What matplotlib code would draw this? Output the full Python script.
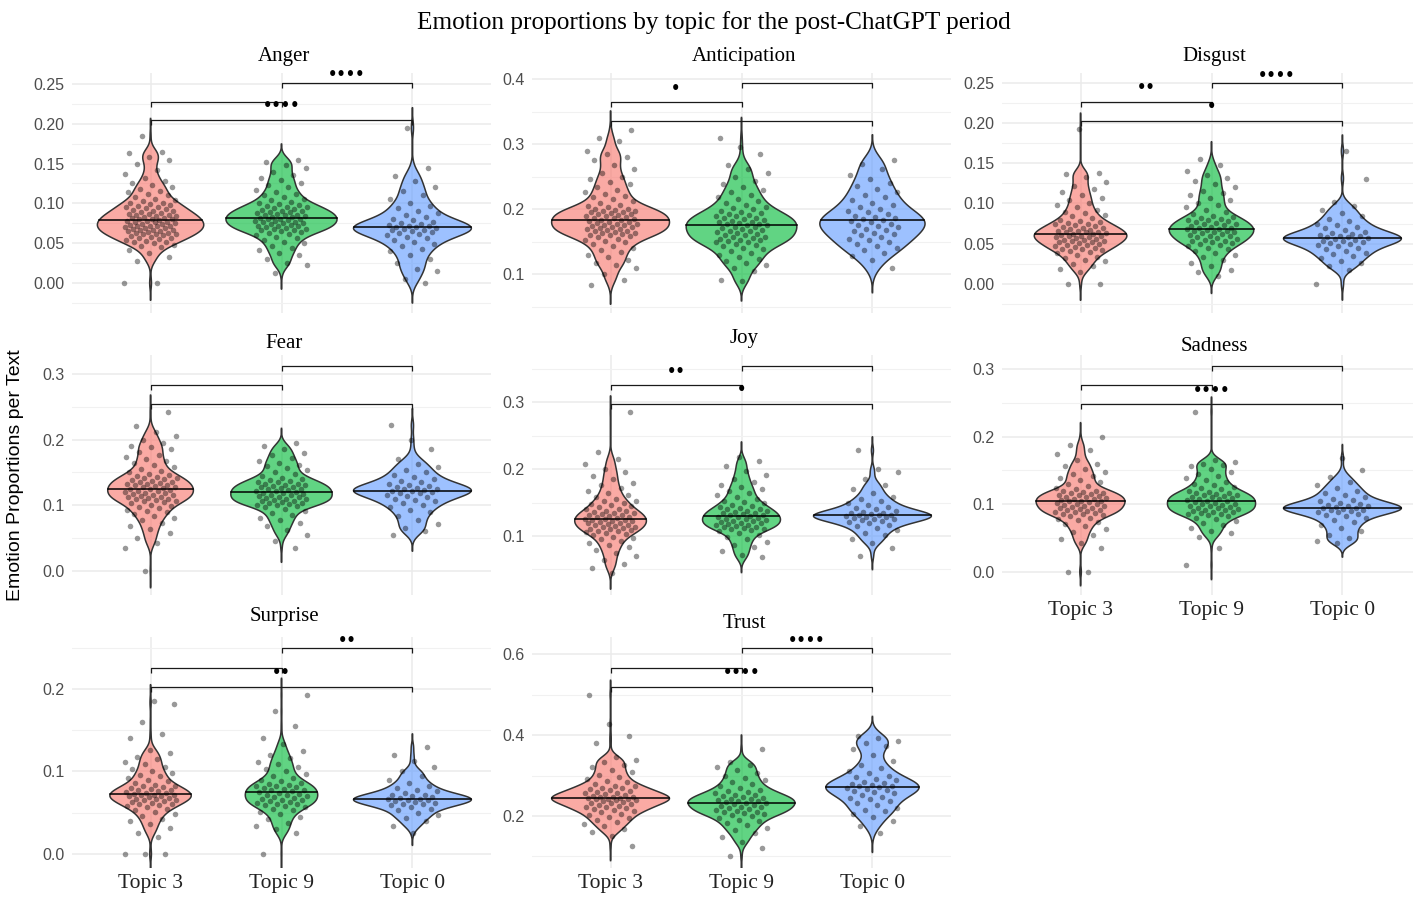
import numpy as np
import matplotlib
matplotlib.use("Agg")
import matplotlib.pyplot as plt
from matplotlib.ticker import MultipleLocator, FormatStrFormatter, AutoMinorLocator

# ---------------- data ----------------
emotions = ["Anger", "Anticipation", "Disgust", "Fear", "Joy", "Sadness", "Surprise", "Trust"]
topics = ["Topic 3", "Topic 9", "Topic 0"]
topic_colors = ["#F8766D", "#00BA38", "#619CFF"]
ref_counts = [420, 380, 150]   # approx. texts per topic in the reference

anger_t3 = [.000, .000, .028, .033, .038, .042, .045, .047, .048, .050, .051, .052, .053, .054, .055, .056, .057, .058, .059, .060,
            .061, .061, .062, .063, .063, .064, .065, .065, .066, .067, .067, .068, .069, .069, .070, .071, .071, .072, .072, .073,
            .074, .074, .075, .076, .076, .077, .078, .078, .079, .080, .080, .081, .082, .082, .083, .084, .084, .085, .086, .087,
            .087, .088, .089, .090, .091, .092, .093, .094, .095, .096, .097, .098, .099, .100, .101, .103, .104, .106, .108, .110,
            .112, .114, .116, .118, .120, .123, .125, .128, .132, .137, .142, .150, .155, .158, .163, .165, .185]
anger_t9 = [.012, .022, .025, .030, .035, .038, .041, .044, .047, .050, .052, .054, .056, .058, .060, .062, .063, .064,
            .065, .066, .067, .068, .068, .069, .070, .071, .072, .072, .073, .074, .075, .075, .076, .077, .078, .078, .079, .080,
            .081, .081, .082, .083, .083, .084, .085, .086, .086, .087, .088, .089, .089, .090, .091, .092, .093, .094, .095, .096,
            .097, .098, .099, .100, .102, .104, .106, .108, .110, .112, .114, .117, .120, .123, .126, .129, .132, .136, .140, .145,
            .148, .152, .155]
anger_t0 = [.000, .005, .015, .018, .025, .030, .035, .040, .043, .046, .049, .052, .054, .056, .058, .060, .062, .063, .064, .065,
            .066, .067, .068, .069, .070, .070, .071, .072, .073, .074, .075, .077, .079, .081, .083, .085, .088, .091, .094, .097,
            .100, .105, .110, .116, .120, .128, .135, .145, .195]

anticipation_t3 = [.083, .092, .100, .110, .115, .118, .122, .126, .130, .134, .137, .140, .143, .146, .149, .151, .153, .155, .157, .159,
                   .160, .161, .162, .163, .164, .165, .166, .167, .168, .169, .170, .171, .172, .173, .174, .175, .176, .177, .178, .179,
                   .180, .181, .182, .183, .184, .185, .186, .187, .188, .189, .190, .191, .192, .193, .194, .195, .196, .197, .198, .199,
                   .200, .201, .203, .205, .207, .209, .212, .215, .218, .221, .224, .227, .230, .234, .238, .242, .246, .250, .255, .262,
                   .268, .275, .280, .285, .290, .305, .310, .322]
anticipation_t9 = [.090, .092, .105, .110, .114, .118, .121, .124, .127, .130, .133, .136, .139, .141, .143, .145, .147, .149,
                   .150, .151, .152, .153, .155, .156, .157, .158, .160, .161, .162, .163, .165, .166, .167, .168, .170, .171, .172, .173,
                   .175, .176, .177, .178, .179, .180, .181, .182, .184, .185, .186, .187, .189, .190, .191, .193, .194, .196, .198, .200,
                   .202, .204, .207, .210, .213, .216, .219, .222, .226, .230, .234, .238, .243, .250, .256, .262, .268, .285, .295, .310]
anticipation_t0 = [.110, .122, .128, .133, .137, .140, .143, .146, .149, .152, .155, .157, .160, .162, .164, .166, .168, .170, .172, .174,
                   .176, .178, .180, .182, .184, .185, .186, .188, .190, .192, .195, .198, .201, .204, .207, .210, .214, .218, .222, .226,
                   .231, .236, .241, .247, .253, .262, .270, .276]

disgust_t3 = [.000, .000, .015, .019, .022, .025, .028, .030, .032, .034, .036, .038, .040, .041, .042, .043, .044,
              .045, .046, .047, .048, .049, .050, .051, .052, .052, .053, .054, .055, .055, .056, .057, .058, .058, .059, .060, .060,
              .061, .062, .062, .063, .064, .064, .065, .066, .066, .067, .068, .069, .070, .071, .072, .073, .074, .075, .076, .077,
              .078, .080, .082, .084, .086, .088, .090, .092, .095, .098, .101, .104, .107, .110, .114, .118, .122, .127, .133, .137,
              .138, .192]
disgust_t9 = [.010, .015, .018, .022, .026, .030, .033, .036, .039, .041, .043, .045, .047, .049,
              .050, .051, .052, .053, .054, .055, .056, .057, .058, .059, .060, .061, .062, .063, .064, .065, .066, .066, .067, .068,
              .068, .069, .070, .071, .072, .073, .074, .075, .076, .077, .078, .079, .080, .081, .082, .083, .085, .087, .089, .092,
              .095, .098, .101, .104, .107, .110, .113, .116, .120, .124, .128, .132, .135, .140, .148, .155]
disgust_t0 = [.000, .018, .022, .026, .029, .032, .035, .037, .039, .041, .043, .045, .047, .049, .050, .051, .052, .053, .054, .055,
              .056, .057, .058, .058, .059, .060, .061, .062, .063, .065, .067, .069, .071, .073, .075, .078, .081, .084, .088, .092,
              .097, .102, .131, .165]

fear_t3 = [.000, .035, .043, .050, .058, .063, .068, .073, .077, .080, .083, .086, .089, .091, .093, .095, .097, .099, .101, .103,
           .105, .106, .107, .108, .109, .110, .111, .112, .113, .114, .115, .116, .117, .118, .119, .120, .121, .122, .123, .124,
           .125, .126, .127, .128, .129, .130, .131, .132, .133, .134, .135, .136, .137, .138, .140, .141, .142, .143, .145, .146,
           .148, .150, .152, .155, .158, .161, .164, .167, .170, .173, .177, .181, .185, .188, .190, .195, .200, .205, .212, .220,
           .242]
fear_t9 = [.035, .045, .055, .062, .068, .073, .077, .081, .085, .088, .091, .094, .097, .099,
           .100, .101, .102, .103, .104, .105, .106, .107, .108, .109, .110, .111, .112, .113, .114, .115, .116, .117, .118, .119,
           .120, .121, .122, .123, .124, .125, .126, .127, .128, .129, .130, .131, .132, .133, .135, .136, .137, .139, .140, .142,
           .144, .147, .150, .153, .156, .159, .162, .165, .168, .172, .176, .180, .185, .190, .195]
fear_t0 = [.055, .060, .065, .072, .078, .084, .089, .093, .097, .100, .103, .106, .108, .110, .112, .114, .116, .118, .119, .120,
           .121, .122, .123, .124, .125, .126, .127, .129, .131, .133, .135, .137, .140, .143, .146, .150, .154, .158, .163, .170,
           .185, .200, .222]

joy_t3 = [.045, .052, .058, .064, .070, .075, .079, .083, .086, .089, .092, .095, .097, .099, .101, .103,
          .105, .106, .107, .108, .109, .110, .111, .112, .113, .114, .115, .116, .117, .118, .119, .120, .121, .122, .123, .124,
          .124, .125, .126, .127, .128, .129, .130, .131, .132, .133, .134, .135, .136, .137, .138, .140, .141, .143, .145, .147,
          .148, .150, .152, .153, .156, .159, .162, .165, .168, .172, .176, .180, .185, .190, .195, .200, .208, .215, .225, .285]
joy_t9 = [.068, .072, .078, .083, .087, .091, .095, .098, .101, .104, .107, .109,
          .110, .111, .112, .113, .114, .115, .116, .117, .118, .119, .120, .121, .122, .123, .124, .125, .126, .127, .128, .129,
          .130, .131, .132, .133, .134, .135, .136, .137, .138, .140, .141, .142, .144, .145, .147, .149, .151, .153, .155, .158,
          .161, .164, .167, .170, .173, .177, .181, .186, .191, .197, .205, .212, .218]
joy_t0 = [.070, .082, .090, .096, .101, .105, .109, .112, .115, .117, .119, .121, .123, .124, .125, .126, .127, .128, .129, .130,
          .131, .131, .132, .133, .134, .135, .136, .138, .140, .142, .144, .146, .149, .152, .155, .159, .164, .170, .177, .185,
          .195, .200, .228]

sadness_t3 = [.000, .000, .035, .042, .048, .054, .059, .063, .067, .070, .073, .076, .078, .080, .082, .084,
              .085, .086, .087, .088, .089, .090, .091, .092, .093, .094, .095, .096, .097, .098, .099, .100, .101, .102, .103, .104,
              .105, .105, .106, .107, .108, .109, .110, .111, .112, .113, .114, .115, .116, .117, .118, .119, .120, .122, .124, .127,
              .130, .133, .136, .139, .142, .145, .148, .152, .156, .160, .165, .175, .180, .187, .200]
sadness_t9 = [.010, .035, .052, .057, .061, .065, .069, .072, .075, .078, .080, .082, .084,
              .085, .086, .087, .088, .089, .090, .091, .092, .093, .094, .095, .096, .097, .098, .099, .100, .101, .102, .103, .104,
              .105, .106, .107, .108, .109, .110, .111, .112, .113, .114, .115, .116, .117, .118, .120, .122, .124, .126, .128, .130,
              .133, .136, .139, .142, .145, .148, .152, .156, .158, .160, .162, .165, .237]
sadness_t0 = [.042, .046, .050, .055, .060, .065, .069, .073, .076, .079, .082, .084, .086, .088, .089, .090, .091, .092, .093, .094,
              .095, .096, .097, .098, .099, .100, .102, .104, .106, .108, .111, .114, .117, .120, .124, .128, .133, .140, .150, .168]

surprise_t3 = [.000, .000, .000, .020, .026, .031, .036, .040, .043, .046, .049, .051, .053, .055, .057,
               .058, .059, .060, .061, .062, .063, .064, .065, .066, .067, .067, .068, .069, .070, .070, .071, .072, .072, .073, .074,
               .074, .075, .076, .077, .078, .079, .080, .081, .082, .083, .084, .086, .088, .090, .092, .094, .096, .098, .100, .103,
               .106, .109, .112, .115, .118, .122, .126, .140, .145, .160, .182, .185]
surprise_t9 = [.000, .025, .030, .034, .038, .042, .045, .048, .051, .053, .055, .057,
               .058, .059, .060, .061, .062, .063, .064, .065, .066, .067, .068, .069, .070, .071, .072, .073, .074, .075, .076, .077,
               .078, .079, .080, .081, .082, .083, .084, .085, .086, .088, .090, .092, .094, .097, .100, .103, .106, .109, .112, .116,
               .120, .125, .133, .140, .155, .173, .193]
surprise_t0 = [.026, .034, .040, .044, .047, .050, .053, .055, .057, .059, .060, .061, .062, .063, .064, .065, .066, .067, .067, .068,
               .069, .070, .071, .072, .074, .076, .078, .080, .083, .086, .090, .095, .100, .106, .113, .120, .130]

trust_t3 = [.125, .150, .160, .168, .175, .181, .186, .190, .194, .198, .202, .206, .209, .212,
            .215, .217, .219, .221, .223, .225, .227, .229, .231, .233, .235, .237, .239, .240, .241, .242, .243, .244, .245, .246,
            .247, .248, .250, .252, .254, .256, .258, .260, .262, .264, .266, .268, .270, .273, .275, .279, .283, .287, .292, .297,
            .302, .308, .314, .320, .327, .333, .338, .345, .380, .398, .428, .500]
trust_t9 = [.100, .120, .135, .148, .158, .165, .171, .177, .182, .187, .191, .195, .199, .202,
            .205, .207, .209, .211, .213, .215, .217, .219, .221, .223, .225, .227, .229, .231, .233, .235, .236, .237, .239, .241,
            .243, .245, .247, .249, .251, .253, .256, .259, .262, .265, .269, .273, .278, .283, .288, .294, .300, .306, .313, .320,
            .327, .333, .365]
trust_t0 = [.158, .175, .188, .198, .206, .213, .215, .220, .226, .232, .238, .243, .245, .248, .252, .256, .259, .262, .265, .267,
            .269, .271, .273, .275, .277, .279, .282, .285, .288, .292, .296, .300, .305, .311, .318, .326, .335, .350, .365, .372,
            .380, .386, .392, .398]

values = {
    "Anger": [anger_t3, anger_t9, anger_t0],
    "Anticipation": [anticipation_t3, anticipation_t9, anticipation_t0],
    "Disgust": [disgust_t3, disgust_t9, disgust_t0],
    "Fear": [fear_t3, fear_t9, fear_t0],
    "Joy": [joy_t3, joy_t9, joy_t0],
    "Sadness": [sadness_t3, sadness_t9, sadness_t0],
    "Surprise": [surprise_t3, surprise_t9, surprise_t0],
    "Trust": [trust_t3, trust_t9, trust_t0],
}

# significance brackets: (Topic3-Topic9), (Topic9-Topic0), (Topic3-Topic0)
bracket_pairs = [(1, 2), (2, 3), (1, 3)]
bracket_y = {
    "Anger": [0.2274, 0.2513, 0.2048],
    "Anticipation": [0.3642, 0.3934, 0.3355],
    "Disgust": [0.2260, 0.2493, 0.2028],
    "Fear": [0.2832, 0.3122, 0.2542],
    "Joy": [0.3259, 0.3547, 0.2975],
    "Sadness": [0.2767, 0.3053, 0.2481],
    "Surprise": [0.2258, 0.2493, 0.2028],
    "Trust": [0.5660, 0.6140, 0.5190],
}
bracket_labels = {
    "Anger": ["", "••••", "••••"],
    "Anticipation": ["•", "", ""],
    "Disgust": ["••", "••••", "•"],
    "Fear": ["", "", ""],
    "Joy": ["••", "", "•"],
    "Sadness": ["", "", "••••"],
    "Surprise": ["", "••", "••"],
    "Trust": ["", "••••", "••••"],
}
y_major_step = {"Anger": 0.05, "Anticipation": 0.1, "Disgust": 0.05, "Fear": 0.1,
                "Joy": 0.1, "Sadness": 0.1, "Surprise": 0.1, "Trust": 0.2}
y_fmt = {"Anger": "%.2f", "Anticipation": "%.1f", "Disgust": "%.2f", "Fear": "%.1f",
         "Joy": "%.1f", "Sadness": "%.1f", "Surprise": "%.1f", "Trust": "%.1f"}
y_limits = {"Anger": (-0.0377, 0.2638), "Anticipation": (0.0406, 0.4092),
            "Disgust": (-0.036, 0.262), "Fear": (-0.037, 0.329),
            "Joy": (0.0117, 0.3708), "Sadness": (-0.0345, 0.321),
            "Surprise": (-0.017, 0.263), "Trust": (0.0716, 0.642)}

# ---------------- layout ----------------
W, H = 1413, 897
fig = plt.figure(figsize=(W / 100, H / 100), dpi=100)
col_x = [72, 532, 1002]
panel_w = 419
row_top = [73, 355, 637]
row_bot = [313, 595, 868]
title_gap = {"Anger": 16, "Anticipation": 16, "Disgust": 16, "Fear": 12,
             "Joy": 17, "Sadness": 9, "Surprise": 21, "Trust": 14}
bottom_panels = {"Sadness", "Surprise", "Trust"}

SERIF = "Liberation Serif"
SANS = "Liberation Sans"


def kde(vals, n_ref, n_grid=600, cut=3.0):
    """Gaussian KDE (nrd0 bandwidth for the reference sample size).
    Isolated tail points stand for single texts; the other plotted points
    stand for several texts each."""
    v = np.sort(np.asarray(vals, dtype=float))
    sd = v.std(ddof=1)
    q75, q25 = np.percentile(v, [75, 25])
    s = min(sd, (q75 - q25) / 1.34)
    bw = 0.9 * s * n_ref ** -0.2
    dist = np.abs(v[:, None] - v[None, :])
    d3 = np.sort(dist, axis=1)[:, 3]          # third-nearest neighbour distance
    iso = d3 > 2 * bw
    w = np.empty_like(v)
    w[iso] = 1.0 / n_ref
    w[~iso] = (1.0 - iso.sum() / n_ref) / max((~iso).sum(), 1)
    y = np.linspace(v.min() - cut * bw, v.max() + cut * bw, n_grid)
    d = (w[None, :] * np.exp(-0.5 * ((y[:, None] - v[None, :]) / bw) ** 2)).sum(axis=1)
    d /= bw * np.sqrt(2 * np.pi)
    return y, d


PHI = 0.6180339887
for i, emo in enumerate(emotions):
    r, c = divmod(i, 3)
    top, bot = row_top[r], row_bot[r]
    ax = fig.add_axes([col_x[c] / W, 1 - bot / H, panel_w / W, (bot - top) / H])
    ax.set_xlim(0.4, 3.6)
    ax.set_ylim(*y_limits[emo])
    ppu = (bot - top) / (y_limits[emo][1] - y_limits[emo][0])  # pixels per data unit

    groups = values[emo]
    dens = [kde(g, n) for g, n in zip(groups, ref_counts)]
    dmax = max(d.max() for _, d in dens)

    for k, (g, (yy, dd)) in enumerate(zip(groups, dens)):
        pos = k + 1
        hw = 0.45 * dd / dmax
        xs = np.concatenate([pos - hw, (pos + hw)[::-1]])
        ys = np.concatenate([yy, yy[::-1]])
        ax.fill(xs, ys, facecolor=matplotlib.colors.to_rgba(topic_colors[k], 0.62),
                edgecolor="#333333", linewidth=1.1, zorder=2)
        # jittered points
        g = np.asarray(g)
        offs = (((np.arange(len(g)) * PHI + 0.37 * k + 0.13 * i) % 1.0) - 0.5) * 0.4
        ax.scatter(pos + offs, g, s=16, c="black", alpha=0.4, linewidths=0, zorder=3)
        # median line
        med = np.median(g)
        mhw = 0.45 * np.interp(med, yy, dd) / dmax
        ax.plot([pos - mhw, pos + mhw], [med, med], color="black", lw=1.1, zorder=4)

    # brackets
    tick = 5 / ppu
    for j, ((a, b), yb, lab) in enumerate(zip(bracket_pairs, bracket_y[emo], bracket_labels[emo])):
        ax.plot([a, a, b, b], [yb - tick, yb, yb, yb - tick], color="#1a1a1a",
                lw=0.9, zorder=5, solid_capstyle="butt", clip_on=False)
        if lab:
            lift = 8 if j == 1 else 14
            ax.annotate(lab, xy=((a + b) / 2, yb), xytext=(0, lift * 0.72),
                        textcoords="offset points", ha="center", va="center",
                        fontsize=10.5, fontweight="bold", family="DejaVu Sans",
                        color="black", annotation_clip=False, zorder=6)

    # axes styling
    for sp in ax.spines.values():
        sp.set_visible(False)
    ax.yaxis.set_major_locator(MultipleLocator(y_major_step[emo]))
    ax.yaxis.set_minor_locator(AutoMinorLocator(2))
    ax.yaxis.set_major_formatter(FormatStrFormatter(y_fmt[emo]))
    ax.set_xticks([1, 2, 3])
    if emo in bottom_panels:
        ax.set_xticklabels(topics, family=SERIF, fontsize=15.5, color="#222222")
    else:
        ax.set_xticklabels([])
    ax.tick_params(axis="both", which="both", length=0)
    ax.tick_params(axis="y", pad=5.5, labelsize=11.5, labelcolor="#4D4D4D")
    ax.tick_params(axis="x", pad=4.5)
    for t in ax.get_yticklabels():
        t.set_family(SANS)
    ax.grid(which="major", axis="both", color="#EBEBEB", lw=1.1)
    ax.grid(which="minor", axis="y", color="#F1F1F1", lw=0.8)
    ax.set_axisbelow(True)

    # facet title
    ax.annotate(emo, xy=(0.5, 1.0), xycoords="axes fraction",
                xytext=(2, title_gap[emo] * 0.72), textcoords="offset points",
                ha="center", va="center", family=SERIF, fontsize=15, color="black")

fig.text(714 / W, 1 - 23 / H, "Emotion proportions by topic for the post-ChatGPT period",
         ha="center", va="center", family=SERIF, fontsize=18.2)
fig.text(16 / W, 1 - 475 / H, "Emotion Proportions per Text", rotation=90,
         ha="center", va="center", family=SANS, fontsize=14)

fig.savefig("out.png", dpi=100)
